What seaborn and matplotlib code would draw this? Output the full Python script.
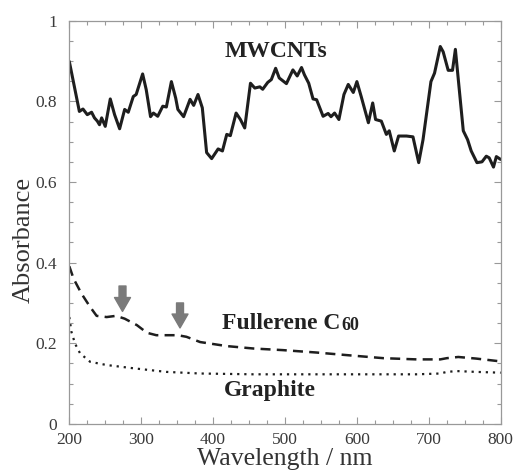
import numpy as np
import pandas as pd
import matplotlib
matplotlib.use('Agg')
import matplotlib.pyplot as plt
import seaborn as sns
from matplotlib.ticker import MultipleLocator

# MWCNTs spectrum
mwcnt_nm = [200, 214, 219, 225, 231, 235, 239, 242, 245, 250, 257, 263, 270, 277, 282,
            289, 293, 302, 307, 313, 317, 323, 330, 335, 342, 348, 351, 359, 368, 373,
            379, 385, 391, 398, 407, 413, 419, 424, 432, 438, 444, 452, 458, 465, 469,
            476, 481, 487, 492, 502, 511, 517, 523, 527, 533, 539, 544, 553, 560, 564,
            569, 575, 582, 588, 595, 600, 606, 616, 622, 626, 634, 641, 645, 652, 658,
            669, 678, 686, 692, 703, 708, 716, 720, 727, 733, 737, 742, 748, 754, 759,
            767, 774, 780, 784, 790, 794, 800]
mwcnt_abs = [0.899, 0.775, 0.781, 0.767, 0.773, 0.759, 0.751, 0.742, 0.759, 0.738, 0.806,
             0.767, 0.732, 0.780, 0.773, 0.812, 0.817, 0.868, 0.829, 0.762, 0.771, 0.763,
             0.788, 0.786, 0.849, 0.808, 0.780, 0.762, 0.805, 0.790, 0.817, 0.784, 0.673,
             0.658, 0.682, 0.677, 0.718, 0.715, 0.771, 0.755, 0.734, 0.845, 0.833, 0.836,
             0.830, 0.847, 0.854, 0.882, 0.858, 0.844, 0.878, 0.863, 0.884, 0.866, 0.845,
             0.806, 0.804, 0.763, 0.770, 0.762, 0.771, 0.755, 0.817, 0.842, 0.822, 0.849,
             0.812, 0.747, 0.796, 0.755, 0.751, 0.718, 0.727, 0.677, 0.714, 0.714, 0.712,
             0.648, 0.705, 0.849, 0.870, 0.936, 0.923, 0.877, 0.877, 0.929, 0.837, 0.727,
             0.705, 0.677, 0.648, 0.650, 0.664, 0.660, 0.637, 0.663, 0.656]

# Fullerene C60
c60_nm = [200, 206, 217, 229, 238, 252, 265, 277, 294, 308, 321, 351, 363, 382, 419,
          456, 497, 544, 590, 637, 683, 716, 725, 741, 766, 800]
c60_abs = [0.391, 0.360, 0.323, 0.290, 0.268, 0.265, 0.268, 0.261, 0.245, 0.226, 0.220,
           0.220, 0.216, 0.203, 0.193, 0.187, 0.183, 0.177, 0.170, 0.163, 0.160, 0.160,
           0.163, 0.166, 0.162, 0.155]

# Graphite
graphite_nm = [200, 203, 208, 215, 229, 252, 289, 335, 382, 456, 497, 590, 683, 716,
               725, 739, 766, 800]
graphite_abs = [0.265, 0.228, 0.199, 0.175, 0.154, 0.146, 0.138, 0.129, 0.125, 0.123,
                0.123, 0.123, 0.123, 0.125, 0.129, 0.131, 0.129, 0.127]

# arrows marking the C60 shoulders
arrow_nm = [274, 354]
arrow_top = [0.342, 0.300]
arrow_tip = [0.279, 0.238]

sns.set_style('ticks')
plt.rcParams['font.family'] = ['Liberation Serif', 'DejaVu Serif']

fig = plt.figure(figsize=(5.16, 4.71), dpi=100)
ax = fig.add_axes([0.1343, 0.1, 0.8360, 0.856])

sns.lineplot(x=mwcnt_nm, y=mwcnt_abs, ax=ax, color='#1e1e1e', lw=2.2)
sns.lineplot(x=c60_nm, y=c60_abs, ax=ax, color='#1e1e1e', lw=1.8,
             linestyle=(0, (4.0, 2.5)))
sns.lineplot(x=graphite_nm, y=graphite_abs, ax=ax, color='#1e1e1e', lw=1.6,
             linestyle=(0, (1, 2.2)))

for x, y0, y1 in zip(arrow_nm, arrow_top, arrow_tip):
    ax.annotate('', xy=(x, y1), xytext=(x, y0),
                arrowprops=dict(arrowstyle='simple,head_width=1.15,head_length=1.0,tail_width=0.5',
                                color='#7a7a7a', shrinkA=0, shrinkB=0, mutation_scale=10))

ax.text(487, 0.923, 'MWCNTs', fontsize=17, fontweight='bold', ha='center', va='center',
        color='#222222')
full = ax.text(413, 0.248, 'Fullerene C', fontsize=17, fontweight='bold',
               ha='left', va='center', color='#222222')
ax.annotate('60', xy=(1, 0), xycoords=full, xytext=(0.5, 0), textcoords='offset points',
            fontsize=13, fontweight='bold', ha='left', va='bottom', color='#222222')
ax.text(415, 0.084, 'Graphite', fontsize=17, fontweight='bold', ha='left', va='center',
        color='#222222')

ax.set_xlim(200, 800)
ax.set_ylim(0, 1)
ax.xaxis.set_major_locator(MultipleLocator(100))
ax.xaxis.set_minor_locator(MultipleLocator(25))
ax.yaxis.set_minor_locator(MultipleLocator(0.05))
ax.set_yticks([0, 0.2, 0.4, 0.6, 0.8, 1.0])
ax.set_yticklabels(['0', '0.2', '0.4', '0.6', '0.8', '1'])
ax.tick_params(which='both', direction='in', top=True, right=True, color='#999999',
               labelsize=12.5, labelcolor='#3a3a3a', width=0.8)
ax.tick_params(axis='x', which='major', length=5, pad=6)
ax.tick_params(axis='y', which='major', length=5, pad=9)
ax.tick_params(which='minor', length=3)
for s in ax.spines.values():
    s.set_color('#999999')
    s.set_linewidth(0.9)

ax.set_xlabel('Wavelength / nm', fontsize=18.5, color='#333333', labelpad=0)
ax.set_ylabel('Absorbance', fontsize=19, color='#333333')
ax.yaxis.set_label_coords(-0.08, 0.457)

plt.savefig('out.png', dpi=100)
plt.close()
